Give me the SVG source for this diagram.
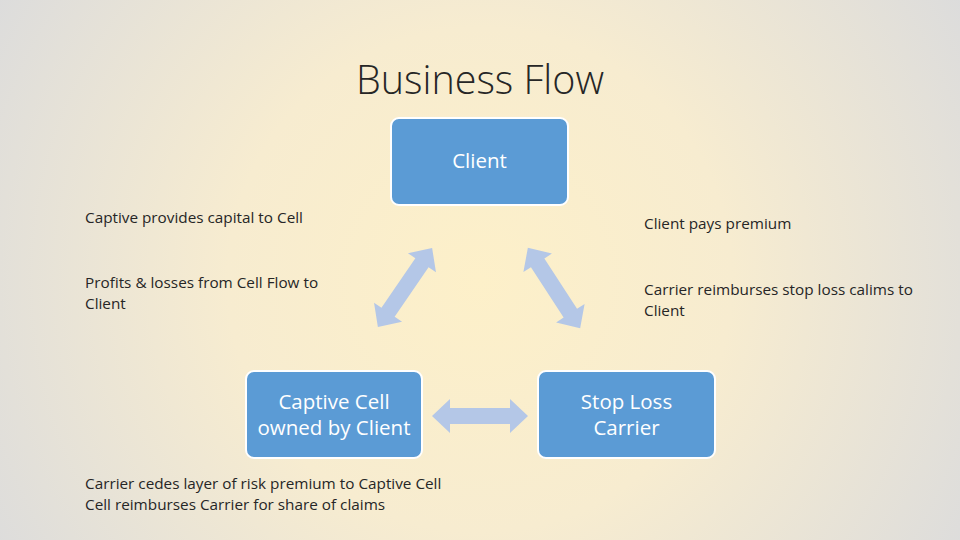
<svg xmlns="http://www.w3.org/2000/svg" width="960" height="540" viewBox="0 0 960 540">
<defs>
<radialGradient id="bg" cx="480" cy="280" r="560" gradientUnits="userSpaceOnUse">
<stop offset="0" stop-color="#fdf0c9"/>
<stop offset="0.45" stop-color="#f7ecd0"/>
<stop offset="1" stop-color="#dcdcdc"/>
</radialGradient>
<path id="arr" d="M-48,0 L-30,-17 L-30,-8 L30,-8 L30,-17 L48,0 L30,17 L30,8 L-30,8 L-30,17 Z"/>
</defs>
<style>
.node{fill:#5b9bd5;stroke:#fff;stroke-width:2}
.nt{fill:#fff;font-family:"Open Sans","Liberation Sans",sans-serif;font-size:20.5px;text-anchor:middle}
.lb{fill:#262626;font-family:"Open Sans","Liberation Sans",sans-serif;font-size:15.3px}
.ar{fill:#b4c7e7}
</style>
<rect width="960" height="540" fill="url(#bg)"/>
<text x="480" y="94" text-anchor="middle" font-family="'Open Sans','Liberation Sans',sans-serif" font-weight="300" font-size="39.5" fill="#262626">Business Flow</text>
<g id="connectors" class="ar">
<use href="#arr" transform="translate(405,287.5) rotate(124.4)"/>
<use href="#arr" transform="translate(554,288) rotate(57)"/>
<use href="#arr" transform="translate(480,416)"/>
</g>
<g id="client"><rect class="node" x="391" y="118" width="177" height="87" rx="8"/><text class="nt" x="479.5" y="168">Client</text></g>
<g id="captive"><rect class="node" x="246" y="371" width="176" height="87" rx="8"/><text class="nt" x="334" y="409">Captive Cell</text><text class="nt" x="334" y="435">owned by Client</text></g>
<g id="stoploss"><rect class="node" x="538" y="371" width="177" height="87" rx="8"/><text class="nt" x="626.5" y="409">Stop Loss</text><text class="nt" x="626.5" y="435">Carrier</text></g>
<g id="labels" class="lb">
<text x="85" y="223">Captive provides capital to Cell</text>
<text x="85" y="288">Profits &amp; losses from Cell Flow to</text>
<text x="85" y="309">Client</text>
<text x="644" y="229">Client pays premium</text>
<text x="644" y="295">Carrier reimburses stop loss calims to</text>
<text x="644" y="316">Client</text>
<text x="85" y="489">Carrier cedes layer of risk premium to Captive Cell</text>
<text x="85" y="510">Cell reimburses Carrier for share of claims</text>
</g>
</svg>
